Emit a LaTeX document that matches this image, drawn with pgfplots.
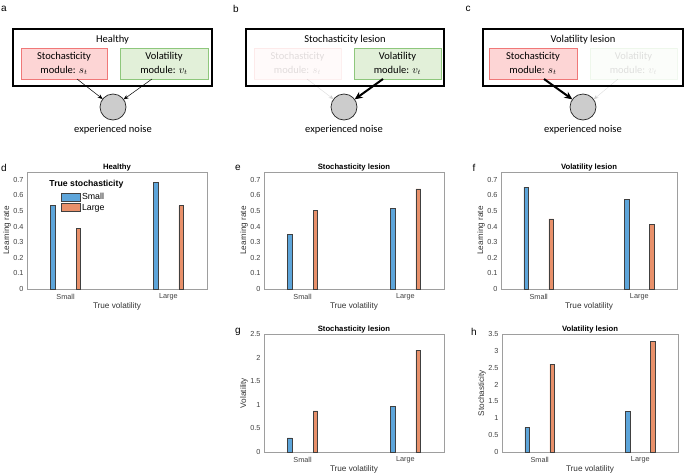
\documentclass[border=0pt]{standalone}
\usepackage{pgfplots}
\pgfplotsset{compat=1.18}
\usepackage{fontspec}
\setmainfont{Carlito}
\newfontfamily\arial{Liberation Sans}
\usetikzlibrary{arrows.meta}

\definecolor{barblue}{HTML}{5DA5DA}
\definecolor{barorange}{HTML}{E8906A}
\definecolor{redfill}{HTML}{FDD5D5}
\definecolor{redline}{HTML}{F07878}
\definecolor{greenfill}{HTML}{E2F0D9}
\definecolor{greenline}{HTML}{8EC77C}
\definecolor{noisegray}{HTML}{CCCCCC}

\tikzset{
  bluebar/.style={fill=barblue, draw=black!75, line width=0.6pt},
  orangebar/.style={fill=barorange, draw=black!75, line width=0.6pt},
}

\pgfplotsset{
  lesionbars/.style={
    scale only axis, anchor=south west,
    width=180pt, height=117pt,
    xmin=0.625, xmax=2.375, ymin=0,
    xtick={1,2}, xticklabels={Small,Large},
    ybar, bar width=4.6pt, bar shift=0pt,
    axis line style={draw=black!38},
    major tick length=0pt,
    /pgf/number format/assume math mode=true,
    yticklabel style={/pgf/number format/fixed},
    tick label style={font=\arial\fontsize{7.3}{8}\selectfont, text=black!75},
    xticklabel style={anchor=center, yshift=-8pt},
    label style={font=\arial\fontsize{8.2}{9}\selectfont, text=black!80},
    xlabel={True volatility},
    xlabel style={at={(rel axis cs:0.5,0)}, anchor=center, yshift=-17pt},
    ylabel style={at={(rel axis cs:0,0.5)}, anchor=center, yshift=20pt},
    title style={font=\arial\bfseries\fontsize{7.7}{8}\selectfont, at={(0.5,1)}, anchor=center, yshift=-1.5pt},
  },
}

\begin{document}
\begin{tikzpicture}
\useasboundingbox (0,0) rectangle (685pt,-474pt);

% ---------- schematic panels ----------
\begin{scope}[x=1pt, y=-1pt, every node/.style={font=\fontsize{10.5}{13.5}\selectfont}]
  % a: healthy
  \draw[line width=1.7pt] (13,29) rectangle (212,86);
  \node at (112.5,40) {Healthy};
  \draw[draw=redline, fill=redfill, line width=0.8pt] (21,48) rectangle (107,79);
  \node[align=center] at (64,63.5) {Stochasticity\\module: $s_t$};
  \draw[draw=greenline, fill=greenfill, line width=0.8pt] (120,48) rectangle (208,79);
  \node[align=center] at (164,63.5) {Volatility\\module: $v_t$};
  \draw[-{Stealth[length=5pt,width=4pt]}, line width=0.5pt] (77,79) -- (102.7,99);
  \draw[-{Stealth[length=5pt,width=4pt]}, line width=0.5pt] (152,79) -- (123.6,99.4);
  \draw[fill=noisegray, draw=black!85, line width=0.7pt] (113,107) circle (13);
  \node at (113,130) {experienced noise};

  % b: stochasticity lesion
  \draw[line width=1.7pt] (246,29) rectangle (444,86);
  \node at (345,40) {Stochasticity lesion};
  \begin{scope}[opacity=0.12]
    \draw[draw=redline, fill=redfill, line width=0.8pt] (254,48) rectangle (341,79);
    \node[align=center] at (297.5,63.5) {Stochasticity\\module: $s_t$};
    \draw[-{Stealth[length=5pt,width=4pt]}, line width=0.5pt] (307,79) -- (333.6,99.2);
  \end{scope}
  \draw[draw=greenline, fill=greenfill, line width=0.8pt] (354,48) rectangle (441,79);
  \node[align=center] at (397.5,63.5) {Volatility\\module: $v_t$};
  \draw[-{Stealth[length=8pt,width=7pt]}, line width=2pt] (383,79) -- (354.6,99.4);
  \draw[fill=noisegray, draw=black!85, line width=0.7pt] (344,107) circle (13);
  \node at (344,130) {experienced noise};

  % c: volatility lesion
  \draw[line width=1.7pt] (483,29) rectangle (683,86);
  \node at (583,40) {Volatility lesion};
  \draw[draw=redline, fill=redfill, line width=0.8pt] (489,48) rectangle (577,79);
  \node[align=center] at (533,63.5) {Stochasticity\\module: $s_t$};
  \begin{scope}[opacity=0.12]
    \draw[draw=greenline, fill=greenfill, line width=0.8pt] (590,48) rectangle (677,79);
    \node[align=center] at (633.5,63.5) {Volatility\\module: $v_t$};
    \draw[-{Stealth[length=5pt,width=4pt]}, line width=0.5pt] (618,79) -- (593.6,99.4);
  \end{scope}
  \draw[-{Stealth[length=8pt,width=7pt]}, line width=2pt] (544,79) -- (572.4,99.4);
  \draw[fill=noisegray, draw=black!85, line width=0.7pt] (583,107) circle (13);
  \node at (583,130) {experienced noise};

  % panel letters
  \begin{scope}[every node/.style={font=\arial\fontsize{10}{10}\selectfont}]
    \node at (4,9) {a};
    \node at (236,9) {b};
    \node at (468,9) {c};
    \node at (4,168) {d};
    \node at (238,168) {e};
    \node at (474,168) {f};
    \node at (238,332) {g};
    \node at (474,332) {h};
  \end{scope}
\end{scope}

% ---------- d: healthy ----------
\begin{axis}[lesionbars, at={(27pt,-289pt)},
  ymax=0.75, ytick={0,0.1,...,0.7},
  title={Healthy}, ylabel={Learning rate},
  legend style={draw=none, fill=none, inner sep=0pt,
    at={(rel axis cs:0.19,0.83)}, anchor=north west,
    font=\arial\fontsize{8.8}{9.5}\selectfont, cells={anchor=west},
    nodes={inner sep=1pt}, row sep=1pt},
  legend cell align=left]
  \addplot[bluebar, legend image code/.code={\draw[bluebar] (0pt,-4pt) rectangle (19pt,4pt);}]
    coordinates {(0.875,0.534) (1.875,0.685)};
  \addplot[orangebar, legend image code/.code={\draw[orangebar] (0pt,-4pt) rectangle (19pt,4pt);}]
    coordinates {(1.125,0.386) (2.125,0.534)};
  \legend{Small,Large}
  \node[font=\arial\bfseries\fontsize{8.7}{9}\selectfont, anchor=west]
    at (rel axis cs:0.105,0.897) {True stochasticity};
\end{axis}

% ---------- e: stochasticity lesion, learning rate ----------
\begin{axis}[lesionbars, at={(264pt,-289pt)},
  ymax=0.75, ytick={0,0.1,...,0.7},
  title={Stochasticity lesion}, ylabel={Learning rate}]
  \addplot[bluebar] coordinates {(0.875,0.351) (1.875,0.518)};
  \addplot[orangebar] coordinates {(1.125,0.505) (2.125,0.642)};
\end{axis}

% ---------- f: volatility lesion, learning rate ----------
\begin{axis}[lesionbars, at={(501pt,-289pt)}, width=176pt,
  ymax=0.75, ytick={0,0.1,...,0.7},
  title={Volatility lesion}, ylabel={Learning rate}]
  \addplot[bluebar] coordinates {(0.875,0.653) (1.875,0.572)};
  \addplot[orangebar] coordinates {(1.125,0.450) (2.125,0.416)};
\end{axis}

% ---------- g: stochasticity lesion, volatility ----------
\begin{axis}[lesionbars, at={(264pt,-452pt)}, height=118pt,
  ymax=2.5, ytick={0,0.5,...,2.5},
  title={Stochasticity lesion}, ylabel={Volatility}]
  \addplot[bluebar] coordinates {(0.875,0.297) (1.875,0.960)};
  \addplot[orangebar] coordinates {(1.125,0.869) (2.125,2.160)};
\end{axis}

% ---------- h: volatility lesion, stochasticity ----------
\begin{axis}[lesionbars, at={(502pt,-452pt)}, width=176pt, height=118pt,
  ymax=3.5, ytick={0,0.5,...,3.5},
  title={Volatility lesion}, ylabel={Stochasticity}]
  \addplot[bluebar] coordinates {(0.875,0.720) (1.875,1.200)};
  \addplot[orangebar] coordinates {(1.125,2.610) (2.125,3.280)};
\end{axis}
\end{tikzpicture}
\end{document}
